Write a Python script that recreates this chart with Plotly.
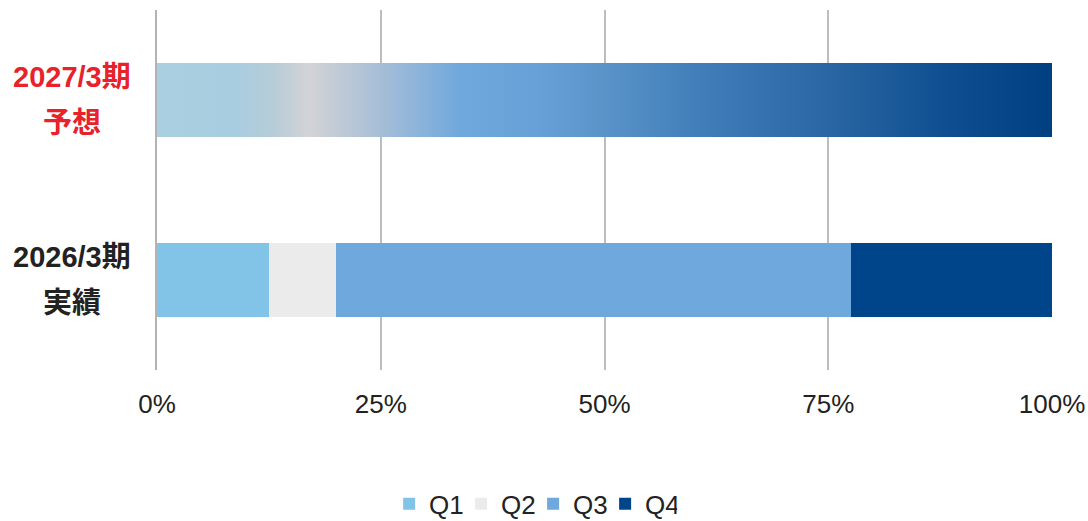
import plotly.graph_objects as go

# ---- data ----
periods = ["2026/3期", "2027/3期"]
period_kinds = ["実績", "予想"]
label_colors = ["#222222", "#e8212b"]
quarters = ["Q1", "Q2", "Q3", "Q4"]
actual_2026 = [12.5, 7.5, 57.5, 22.5]          # % share by quarter
forecast_2027_total = 100                        # forecast shown as one gradient bar
x_ticks = [0, 25, 50, 75, 100]
x_tick_labels = ["0%", "25%", "50%", "75%", "100%"]

# ---- styles ----
q_colors = ["#82c4e8", "#ebebeb", "#6fa8dc", "#00458a"]
gradient_scale = [
    [0.00, "#a9cfe1"], [0.09, "#a9cde0"], [0.13, "#b6ccd8"], [0.17, "#d3d3d6"],
    [0.25, "#a6bed7"], [0.34, "#6fa8dc"], [0.43, "#66a0d6"], [0.50, "#5993c8"],
    [0.615, "#3f7cb8"], [0.75, "#2a66a3"], [0.88, "#0f4f91"], [1.00, "#003f80"],
]
bar_w = 0.41
font_fam = "Arial, 'Liberation Sans', 'Noto Sans CJK JP', sans-serif"

fig = go.Figure()

# actual year: stacked quarters
for q, v, c in zip(quarters, actual_2026, q_colors):
    fig.add_trace(go.Bar(
        x=[v], y=[0], name=q, orientation="h", width=bar_w,
        marker=dict(color=c, line=dict(width=0)),
    ))

# forecast year: single gradient bar
y_f = 1
fig.add_trace(go.Scatter(
    x=[0, forecast_2027_total, forecast_2027_total, 0, 0],
    y=[y_f - bar_w / 2, y_f - bar_w / 2, y_f + bar_w / 2, y_f + bar_w / 2, y_f - bar_w / 2],
    mode="lines", fill="toself", line=dict(width=0),
    fillgradient=dict(type="horizontal", colorscale=gradient_scale),
    showlegend=False, hoverinfo="skip",
))

annotations = []
for i, (p, k, col) in enumerate(zip(periods, period_kinds, label_colors)):
    for txt, sh in ((p, 23), (k, -23)):
        annotations.append(dict(
            x=0, y=i, xref="x", yref="y", text=f"<b>{txt}</b>", showarrow=False,
            xanchor="center", yanchor="middle", xshift=-85, yshift=sh,
            font=dict(size=29, color=col, family=font_fam),
        ))

fig.update_layout(
    width=1088, height=521,
    margin=dict(l=157, r=36, t=10, b=151, autoexpand=False),
    paper_bgcolor="white", plot_bgcolor="white",
    barmode="stack",
    font=dict(family=font_fam, color="#222222"),
    xaxis=dict(
        range=[0, 100], tickvals=x_ticks, ticktext=x_tick_labels,
        showgrid=True, gridcolor="#bdbdbd", gridwidth=2,
        zeroline=False, showline=False, ticks="",
        tickfont=dict(size=26, color="#222222"), ticklabelstandoff=16,
        ticklabeloverflow="allow", automargin=False,
        fixedrange=True,
    ),
    yaxis=dict(
        range=[-0.5, 1.5], showticklabels=False, showgrid=False, zeroline=False,
        showline=True, linecolor="#b3b3b3", linewidth=2, ticks="",
        automargin=False, fixedrange=True,
    ),
    legend=dict(
        orientation="h", traceorder="normal",
        x=0.49, xanchor="center", xref="container",
        y=-0.372, yanchor="middle", yref="paper",
        font=dict(size=26, color="#222222"),
        itemwidth=30, entrywidth=27, entrywidthmode="pixels",
    ),
    annotations=annotations,
)

fig.write_html("out.html")
